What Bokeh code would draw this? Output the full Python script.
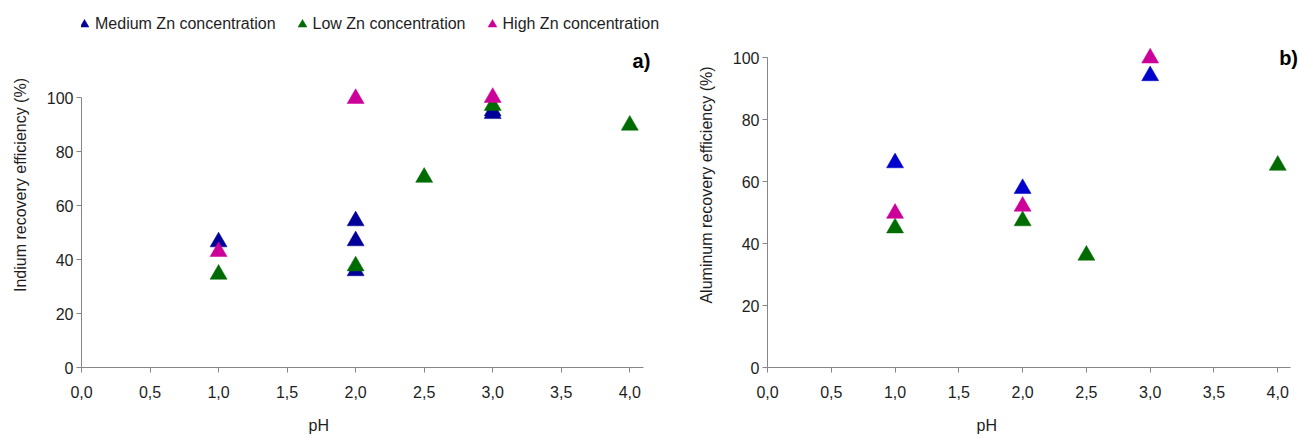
from bokeh.plotting import figure
from bokeh.layouts import row
from bokeh.models import Range1d, FixedTicker, Legend, LegendItem, Label, Title
from bokeh.embed import file_html
from bokeh.resources import INLINE

# pH axis ticks and their decimal-comma labels
ph_ticks = [0.0, 0.5, 1.0, 1.5, 2.0, 2.5, 3.0, 3.5, 4.0]
ph_tick_labels = ["0,0", "0,5", "1,0", "1,5", "2,0", "2,5", "3,0", "3,5", "4,0"]
pct_ticks = [0, 20, 40, 60, 80, 100]

series_names = ["Medium Zn concentration", "Low Zn concentration", "High Zn concentration"]

# a) Indium recovery efficiency (%)
in_medium_ph = [1.0, 2.0, 2.0, 2.0, 3.0, 3.0]
in_medium = [46.5, 54.3, 46.9, 35.8, 94.0, 95.0]
in_low_ph = [1.0, 2.0, 2.5, 3.0, 4.0]
in_low = [34.5, 37.6, 70.4, 97.0, 89.7]
in_high_ph = [1.0, 2.0, 3.0]
in_high = [42.9, 99.6, 100.0]

# b) Aluminum recovery efficiency (%)
al_medium_ph = [1.0, 2.0, 3.0]
al_medium = [66.0, 57.7, 94.1]
al_low_ph = [1.0, 2.0, 2.5, 4.0]
al_low = [45.0, 47.3, 36.2, 65.2]
al_high_ph = [1.0, 2.0, 3.0]
al_high = [49.7, 52.0, 99.8]

FONT = "Liberation Sans"
FS = "16px"
TEXT = "#1e1e1e"
AXIS = "#868686"
GREEN = "#006b00"
PINK = "#cc0099"


def make_panel(series, colors, ylabel, tag, tag_y, px_per_unit, frame_w,
               border_left, border_right, ph_offset, legend=False):
    frame_h = 365
    p = figure(
        frame_width=frame_w, frame_height=frame_h,
        x_range=Range1d(0, frame_w / px_per_unit[0]),
        y_range=Range1d(0, frame_h / px_per_unit[1]),
        output_backend="svg", toolbar_location=None,
        min_border_left=border_left, min_border_right=border_right,
        min_border_top=2, min_border_bottom=70,
        background_fill_color="white", border_fill_color="white",
    )
    p.outline_line_color = None
    p.grid.visible = False

    renderers = []
    for (xs, ys), c in zip(series, colors):
        r = p.scatter(xs, ys, marker="triangle", size=17,
                      fill_color=c, line_color=c, line_width=0.5)
        renderers.append(r)

    for ax in (p.xaxis[0], p.yaxis[0]):
        ax.axis_line_color = AXIS
        ax.major_tick_line_color = AXIS
        ax.minor_tick_line_color = None
        ax.major_tick_out = 5
        ax.major_tick_in = 0
        ax.major_label_text_font = FONT
        ax.major_label_text_font_size = FS
        ax.major_label_text_color = TEXT
        ax.axis_label_text_font = FONT
        ax.axis_label_text_font_size = FS
        ax.axis_label_text_font_style = "normal"
        ax.axis_label_text_color = TEXT

    p.xaxis.ticker = FixedTicker(ticks=ph_ticks)
    p.xaxis.bounds = (0, 4.1)
    p.xaxis.major_label_overrides = {t: s for t, s in zip(ph_ticks, ph_tick_labels)}
    p.xaxis.major_label_standoff = 13

    p.yaxis.ticker = FixedTicker(ticks=pct_ticks)
    p.yaxis.bounds = (0, 100)
    p.yaxis.major_label_standoff = 3
    p.yaxis.axis_label = ylabel
    p.yaxis.axis_label_standoff = 15

    # x-axis title, set off to the left of the frame centre
    p.add_layout(Title(text="pH", align="left", offset=ph_offset, standoff=28,
                       text_font=FONT, text_font_size=FS, text_font_style="normal",
                       text_color=TEXT), "below")

    p.add_layout(Label(x=4.085, y=tag_y, text=tag,
                       text_font=FONT, text_font_size="20px", text_font_style="bold",
                       text_color="black", text_align="center", text_baseline="middle"))

    if legend:
        items = [LegendItem(label=n, renderers=[r]) for n, r in zip(series_names, renderers)]
        lg = Legend(items=items, orientation="horizontal", location=(-8, 331),
                    glyph_width=22, glyph_height=24, label_standoff=0, spacing=15,
                    padding=0, margin=0, border_line_color=None,
                    background_fill_alpha=0,
                    label_text_font=FONT, label_text_font_size=FS,
                    label_text_color=TEXT)
        p.add_layout(lg)
    return p


pa = make_panel(
    [(in_medium_ph, in_medium), (in_low_ph, in_low), (in_high_ph, in_high)],
    ["#000099", GREEN, PINK],
    "Indium recovery efficiency (%)", "a)", 113.7, (137.07, 2.7), 582, 81, 0, 227,
    legend=True)

pb = make_panel(
    [(al_medium_ph, al_medium), (al_low_ph, al_low), (al_high_ph, al_high)],
    ["#0000cc", GREEN, PINK],
    "Aluminum recovery efficiency (%)", "b)", 99.7, (127.56, 3.1), 532, 104, 0, 209)

layout = row(pa, pb)
open("out.html", "w").write(file_html(layout, INLINE))
